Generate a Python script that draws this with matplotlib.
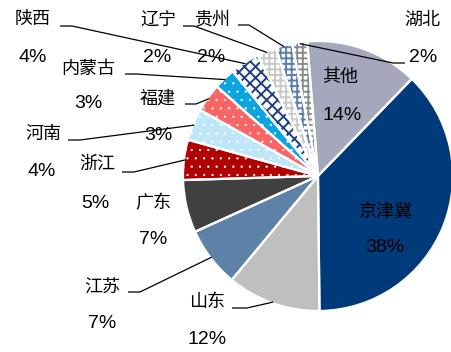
import matplotlib
matplotlib.use('Agg')
import matplotlib.pyplot as plt
import numpy as np

# ---------------- data ----------------
regions = ['京津冀', '山东', '江苏', '广东', '浙江', '河南', '福建',
           '内蒙古', '陕西', '辽宁', '贵州', '湖北', '其他']
shares = [37.6, 11.2, 7.2, 6.3, 4.8, 3.8, 3.4, 2.6, 3.5, 2.3, 2.0, 1.8, 13.5]
pct_labels = ['38%', '12%', '7%', '7%', '5%', '4%', '3%', '3%', '4%',
              '2%', '2%', '2%', '14%']

# ---------------- style ----------------
W, H = 451, 352
face_colors = ['#003A7A', '#BFBFBF', '#5E81A8', '#404040', '#B00000', '#BDE6F7',
               '#F96464', '#0AA5E0', 'white', 'white', 'white', 'white', '#A5A8BC']
hatches = [None, None, None, None, '..', '..', '..', '..', 'xxx', '+++', '+++', '+++', None]
hatch_colors = [None, None, None, None, 'white', 'white', 'white', 'white',
                '#1F3F80', '#C8C8C8', '#5B7FAD', '#8C8C8C', None]
hatch_lw = [None, None, None, None, 0.4, 0.4, 0.4, 0.4, 1.4, 1.4, 1.4, 1.4, None]

# label positions (pixel coords, origin top-left): name centre, pct centre
name_pos = {
    '京津冀': (385, 212), '山东': (207, 302), '江苏': (102, 288), '广东': (153, 203),
    '浙江': (97, 164), '河南': (43, 134), '福建': (158, 99), '内蒙古': (88, 69),
    '陕西': (33, 20), '辽宁': (158, 21), '贵州': (213, 19), '湖北': (422, 20),
    '其他': (340, 77)}
pct_pos = {
    '京津冀': (385, 248), '山东': (207, 339), '江苏': (102, 323), '广东': (153, 240),
    '浙江': (95, 204), '河南': (42, 172), '福建': (158, 135), '内蒙古': (88, 104),
    '陕西': (33, 58), '辽宁': (157, 57), '贵州': (211, 57), '湖北': (423, 57),
    '其他': (342, 115)}
# leader lines: start point and elbow point (pixel coords, top-left origin)
leaders = {
    '陕西': [(60, 26), (72, 26)],
    '辽宁': [(183, 26), (194, 26)],
    '贵州': [(238, 25), (249, 25)],
    '湖北': [(405, 63), (393, 63)],
    '内蒙古': [(125, 74), (136, 74)],
    '福建': [(185, 104), (196, 104)],
    '河南': [(68, 140), (80, 140)],
    '浙江': [(122, 172), (134, 172)],
    '江苏': [(128, 292), (140, 292)],
    '山东': [(232, 308), (247, 308)],
}

cx, cy, R = 318, 176, 135

plt.rcParams['hatch.linewidth'] = 1.4
plt.rcParams['font.family'] = ['Noto Sans CJK SC', 'DejaVu Sans']

fig = plt.figure(figsize=(W / 100, H / 100), dpi=100)
ax = fig.add_axes([0, 0, 1, 1])

def P(x, y):
    return (x, H - y)

center = P(cx, cy)
# base fill
wedges, _ = ax.pie(shares, colors=face_colors, startangle=46, counterclock=False,
                   center=center, radius=R, frame=True,
                   wedgeprops=dict(linewidth=0, edgecolor='none'))
# hatch layers (one per hatch line width)
for k in range(len(shares)):
    if hatches[k] is None:
        continue
    plt.rcParams['hatch.linewidth'] = hatch_lw[k]
    hw, _ = ax.pie(shares, colors=['none'] * len(shares), startangle=46,
                   counterclock=False, center=center, radius=R, frame=True,
                   wedgeprops=dict(linewidth=0))
    for j, w in enumerate(hw):
        if j != k:
            w.remove()
        else:
            w.set_facecolor('none')
            w.set_hatch(hatches[k])
            w.set_edgecolor(hatch_colors[k])
            w.set_linewidth(0)
            if hasattr(w, 'set_hatch_linewidth'):
                w.set_hatch_linewidth(hatch_lw[k])
# white separators
ew, _ = ax.pie(shares, colors=['none'] * len(shares), startangle=46, counterclock=False,
               center=center, radius=R, frame=True,
               wedgeprops=dict(linewidth=1.6, edgecolor='white', facecolor='none'))
for w in ew:
    w.set_facecolor('none')

ax.set_xlim(0, W)
ax.set_ylim(0, H)
ax.set_aspect('auto')
ax.axis('off')

cn_kw = dict(fontsize=13, ha='center', va='center', color='black',
             family=['Noto Sans CJK SC', 'DejaVu Sans'], fontweight='light')
pct_kw = dict(fontsize=14, ha='center', va='center', color='black',
              family=['Liberation Sans', 'DejaVu Sans'])

for i, name in enumerate(regions):
    nx, ny = name_pos[name]
    px, py = pct_pos[name]
    ax.text(*P(nx, ny), name, **cn_kw)
    ax.text(*P(px, py), pct_labels[i], **pct_kw)
    if name in leaders:
        w = wedges[i]
        mid = np.deg2rad((w.theta1 + w.theta2) / 2)
        ex = cx + 0.99 * R * np.cos(mid)
        ey = cy - 0.99 * R * np.sin(mid)
        pts = leaders[name] + [(ex, ey)]
        xs = [p[0] for p in pts]
        ys = [H - p[1] for p in pts]
        ax.plot(xs, ys, color='black', linewidth=0.9, solid_capstyle='butt', zorder=5)

fig.savefig('out.png', dpi=100)
